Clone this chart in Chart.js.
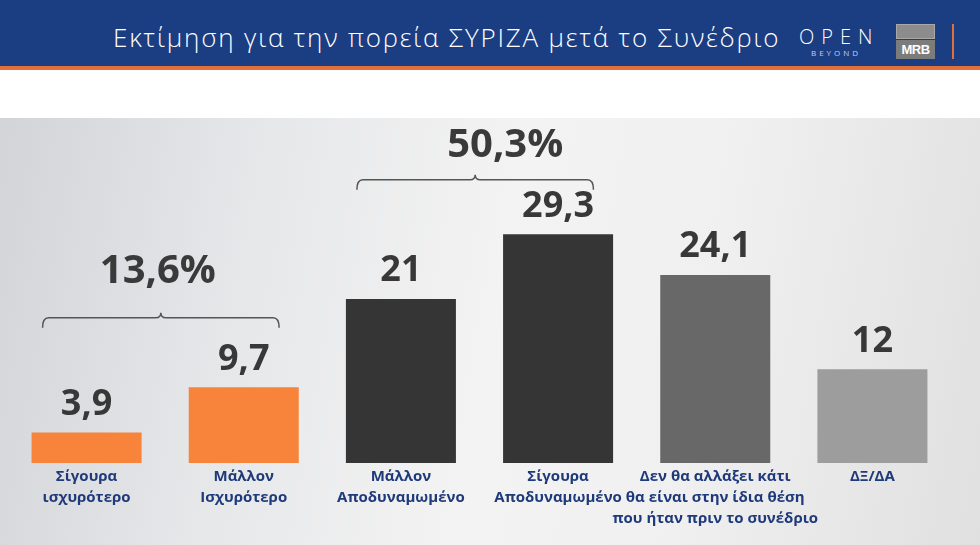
<!DOCTYPE html>
<html>

<head>
    <meta charset="UTF-8">
    <title>Εκτίμηση για την πορεία ΣΥΡΙΖΑ μετά το Συνέδριο</title>
    <script src="https://cdn.jsdelivr.net/npm/chart.js"></script>
    <style>
        html, body { margin: 0; padding: 0; }
        body { width: 980px; height: 545px; overflow: hidden; position: relative; background: #fff; font-family: "Open Sans", sans-serif; }
        #header { position: absolute; left: 0; top: 0; width: 980px; height: 66px; background: #1b3d82; border-bottom: 4px solid #e2703a; }
        #title { position: absolute; left: 113px; top: 23px; color: #fff; font-size: 26px; font-weight: 300; letter-spacing: 1.8px; white-space: nowrap; line-height: 1.1; }
        #open { position: absolute; left: 799px; top: 27px; color: #fff; font-size: 20px; font-weight: 300; letter-spacing: 7px; line-height: 1; }
        #beyond { position: absolute; left: 811px; top: 49px; color: #c8d0e0; font-size: 8px; letter-spacing: 3px; line-height: 1; }
        #mrbTop { position: absolute; left: 896px; top: 24px; width: 39px; height: 15px; background: #8c8c8c; border: 1px solid #a8a8a8; box-sizing: border-box; }
        #mrb { position: absolute; left: 896px; top: 40px; width: 39px; height: 19px; background: #7c7c7c; color: #fff; font: bold 13px "Liberation Sans", sans-serif; text-align: center; line-height: 19px; letter-spacing: -0.5px; }
        #bar { position: absolute; left: 952px; top: 24px; width: 2px; height: 35px; background: #e2703a; }
        #panel { position: absolute; left: 0; top: 118px; width: 980px; height: 427px;
            background: linear-gradient(100deg, #d2d4d8 0%, #e6e7e9 25%, #f3f3f3 50%, #f0f0f0 70%, #e0e0e0 100%); }
    </style>
</head>

<body>
    <div id="header">
        <div id="title">Εκτίμηση για την πορεία ΣΥΡΙΖΑ μετά το Συνέδριο</div>
        <div id="open">OPEN</div>
        <div id="beyond">BEYOND</div>
        <div id="mrbTop"></div>
        <div id="mrb">MRB</div>
        <div id="bar"></div>
    </div>

    <div id="panel">
        <canvas id="surveyChart" width="980" height="427"></canvas>
    </div>

    <script>
        const categories = [
            ["Σίγουρα", "ισχυρότερο"],
            ["Μάλλον", "Ισχυρότερο"],
            ["Μάλλον", "Αποδυναμωμένο"],
            ["Σίγουρα", "Αποδυναμωμένο"],
            ["Δεν θα αλλάξει κάτι", "θα είναι στην ίδια θέση", "που ήταν πριν το συνέδριο"],
            ["ΔΞ/ΔΑ"]
        ];
        const values = [3.9, 9.7, 21, 29.3, 24.1, 12];
        const barColors = ["#f7843a", "#f7843a", "#353535", "#353535", "#686868", "#9d9d9d"];

        // groups shown with a brace over them
        const groupLabels = ["13,6%", "50,3%"];
        const groupFirst = [0, 2];
        const groupLast = [1, 3];

        const fmt = v => String(v).replace(".", ",");

        const valueLabels = {
            id: "valueLabels",
            afterDatasetsDraw(chart) {
                const ctx = chart.ctx;
                const meta = chart.getDatasetMeta(0);
                ctx.save();
                ctx.fillStyle = "#383838";
                ctx.font = "bold 36px 'Open Sans', sans-serif";
                ctx.textAlign = "center";
                ctx.textBaseline = "middle";
                meta.data.forEach((bar, i) => {
                    ctx.fillText(fmt(values[i]), bar.x, bar.y - 28);
                });
                ctx.restore();
            }
        };

        const braces = {
            id: "braces",
            afterDatasetsDraw(chart, args, opts) {
                const ctx = chart.ctx;
                const x = chart.scales.x;
                const y = chart.scales.y;
                const cw = x.getPixelForValue(1) - x.getPixelForValue(0);
                ctx.save();
                groupLabels.forEach((label, g) => {
                    const x1 = x.getPixelForValue(groupFirst[g]) - 0.28 * cw;
                    const x2 = x.getPixelForValue(groupLast[g]) + 0.225 * cw;
                    const xm = (x1 + x2) / 2;
                    const by = y.getPixelForValue(opts.braceLevel[g]);
                    ctx.strokeStyle = "#555";
                    ctx.lineWidth = 1.5;
                    ctx.beginPath();
                    ctx.moveTo(x1, by + 10);
                    ctx.quadraticCurveTo(x1, by, x1 + 6, by);
                    ctx.lineTo(xm - 5, by);
                    ctx.quadraticCurveTo(xm, by, xm, by - 5);
                    ctx.quadraticCurveTo(xm, by, xm + 5, by);
                    ctx.lineTo(x2 - 6, by);
                    ctx.quadraticCurveTo(x2, by, x2, by + 10);
                    ctx.stroke();

                    ctx.fillStyle = "#3a3a3a";
                    ctx.font = "bold 40px 'Open Sans', sans-serif";
                    ctx.textAlign = "center";
                    ctx.textBaseline = "middle";
                    ctx.fillText(label, xm + opts.labelShift[g], y.getPixelForValue(opts.labelLevel[g]));
                });
                ctx.restore();
            }
        };

        new Chart(document.getElementById("surveyChart"), {
            type: "bar",
            data: {
                labels: categories,
                datasets: [{
                    data: values,
                    backgroundColor: barColors,
                    barPercentage: 0.7,
                    categoryPercentage: 1
                }]
            },
            options: {
                responsive: false,
                animation: false,
                layout: { padding: { left: 8, right: 29, top: 0, bottom: 13 } },
                scales: {
                    x: {
                        grid: { display: false, drawTicks: false },
                        border: { display: false },
                        ticks: {
                            color: "#1f3a7a",
                            padding: 3,
                            maxRotation: 0,
                            autoSkip: false,
                            font: { family: "'Open Sans', sans-serif", size: 15, weight: "bold", lineHeight: 1.4 }
                        }
                    },
                    y: {
                        display: false,
                        min: 0,
                        max: 44.2
                    }
                },
                plugins: {
                    legend: { display: false },
                    tooltip: { enabled: false },
                    braces: {
                        braceLevel: [18.6, 36.3],
                        labelLevel: [24.5, 40.6],
                        labelShift: [-3, 30]
                    }
                }
            },
            plugins: [valueLabels, braces]
        });
    </script>
</body>

</html>
